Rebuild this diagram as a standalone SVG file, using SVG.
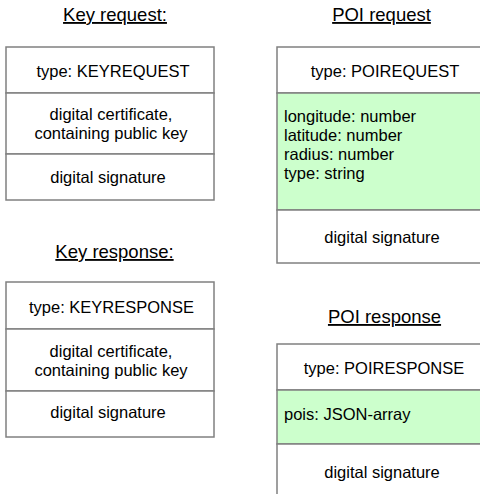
<svg xmlns="http://www.w3.org/2000/svg" width="480" height="494" viewBox="0 0 480 494">
  <style>
    .cell { fill: #ffffff; stroke: #808080; stroke-width: 1.5; }
    .data { fill: #ccffcc; stroke: #808080; stroke-width: 1.5; }
    .title { font-family: "Liberation Sans", Arial, sans-serif; font-size: 18.5px; fill: #000000; text-anchor: middle; text-decoration: underline; }
    .txt { font-family: "Liberation Sans", Arial, sans-serif; font-size: 16.5px; fill: #000000; text-anchor: middle; }
    .left { text-anchor: start; }
  </style>
  <rect width="480" height="494" fill="#ffffff"/>

  <!-- Key request message -->
  <g id="key-request">
    <text class="title" x="115" y="21">Key request:</text>
    <rect class="cell" x="6" y="47" width="208" height="46"/>
    <rect class="cell" x="6" y="93" width="208" height="61"/>
    <rect class="cell" x="6" y="154" width="208" height="46"/>
    <text class="txt" x="113" y="77">type: KEYREQUEST</text>
    <text class="txt" x="111" y="120">digital certificate,</text>
    <text class="txt" x="111" y="139">containing public key</text>
    <text class="txt" x="108" y="183">digital signature</text>
  </g>

  <!-- POI request message -->
  <g id="poi-request">
    <text class="title" x="381.5" y="21">POI request</text>
    <rect class="cell" x="277" y="47" width="215" height="46"/>
    <rect class="data" x="277" y="93" width="215" height="117"/>
    <rect class="cell" x="277" y="210" width="215" height="53"/>
    <text class="txt" x="385" y="77">type: POIREQUEST</text>
    <text class="txt left" x="284" y="122">longitude: number</text>
    <text class="txt left" x="284" y="141">latitude: number</text>
    <text class="txt left" x="284" y="160">radius: number</text>
    <text class="txt left" x="284" y="179">type: string</text>
    <text class="txt" x="382" y="243">digital signature</text>
  </g>

  <!-- Key response message -->
  <g id="key-response">
    <text class="title" x="114.5" y="258">Key response:</text>
    <rect class="cell" x="6" y="282" width="208" height="47"/>
    <rect class="cell" x="6" y="329" width="208" height="62"/>
    <rect class="cell" x="6" y="391" width="208" height="46"/>
    <text class="txt" x="111.5" y="313">type: KEYRESPONSE</text>
    <text class="txt" x="111" y="357">digital certificate,</text>
    <text class="txt" x="111" y="376">containing public key</text>
    <text class="txt" x="108" y="418">digital signature</text>
  </g>

  <!-- POI response message -->
  <g id="poi-response">
    <text class="title" x="384.5" y="323">POI response</text>
    <rect class="cell" x="277" y="344" width="215" height="46"/>
    <rect class="data" x="277" y="390" width="215" height="54"/>
    <rect class="cell" x="277" y="444" width="215" height="60"/>
    <text class="txt" x="384" y="374">type: POIRESPONSE</text>
    <text class="txt left" x="284" y="420">pois: JSON-array</text>
    <text class="txt" x="382" y="478">digital signature</text>
  </g>

  <!-- no connectors between the message layouts -->
  <g id="connectors"/>
</svg>
